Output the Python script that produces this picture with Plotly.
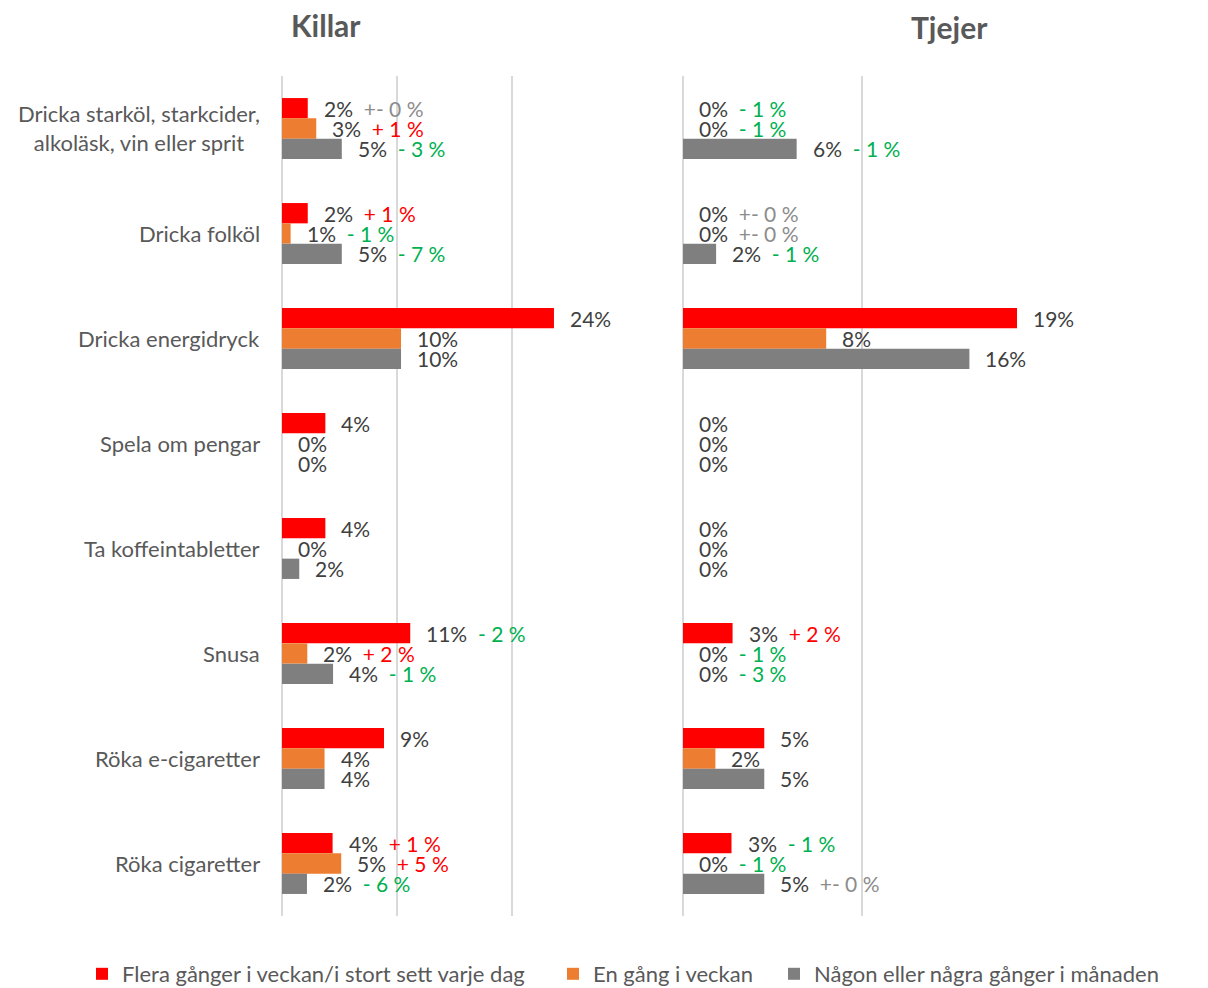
import plotly.graph_objects as go

# ---------------- data ----------------
categories = [
    "Dricka starköl, starkcider,<br>alkoläsk, vin eller sprit",
    "Dricka folköl",
    "Dricka energidryck",
    "Spela om pengar",
    "Ta koffeintabletter",
    "Snusa",
    "Röka e-cigaretter",
    "Röka cigaretter",
]
series_names = [
    "Flera gånger i veckan/i stort sett varje dag",
    "En gång i veckan",
    "Någon eller några gånger i månaden",
]
series_colors = ["#ff0000", "#ed7d31", "#7f7f7f"]

# Killar (percent)
killar_flera = [2.24, 2.24, 23.65, 3.77, 3.77, 11.15, 8.87, 4.4]
killar_en = [2.98, 0.75, 10.35, 0, 0, 2.2, 3.7, 5.15]
killar_nagon = [5.2, 5.2, 10.35, 0, 1.5, 4.44, 3.7, 2.17]

# Tjejer (percent)
tjejer_flera = [0, 0, 18.66, 0, 0, 2.77, 4.54, 2.71]
tjejer_en = [0, 0, 8.0, 0, 0, 0, 1.81, 0]
tjejer_nagon = [6.35, 1.85, 16.0, 0, 0, 0, 4.54, 4.54]

# change vs. previous survey (percentage points); None = not shown
killar_flera_chg = [0, 1, None, None, None, -2, None, 1]
killar_en_chg = [1, -1, None, None, None, 2, None, 5]
killar_nagon_chg = [-3, -7, None, None, None, -1, None, -6]
tjejer_flera_chg = [-1, 0, None, None, None, 2, None, -1]
tjejer_en_chg = [-1, 0, None, None, None, -1, None, -1]
tjejer_nagon_chg = [-1, -1, None, None, None, -3, None, 0]

panel_titles = ["Killar", "Tjejer"]

# ---------------- styling ----------------
FONT = "Lato, 'Open Sans', sans-serif"
TEXT_COL = "#404040"
AXIS_TEXT = "#595959"
GRID = "#d9d9d9"
CHG_POS = "#ff0000"
CHG_NEG = "#00b050"
CHG_ZERO = "#8c8c8c"
BARGAP = 0.42

W, H = 1208, 988


def px(xs):
    return xs / W


def py(ys):
    return 1 - ys / H


def chg_text(c):
    if c is None:
        return ""
    if c > 0:
        return f"<span style='color:{CHG_POS}'>+ {c} %</span>"
    if c < 0:
        return f"<span style='color:{CHG_NEG}'>- {abs(c)} %</span>"
    return f"<span style='color:{CHG_ZERO}'>+- 0 %</span>"


fig = go.Figure()

panels = [
    ("x", "y", [killar_flera, killar_en, killar_nagon],
     [killar_flera_chg, killar_en_chg, killar_nagon_chg], True),
    ("x2", "y2", [tjejer_flera, tjejer_en, tjejer_nagon],
     [tjejer_flera_chg, tjejer_en_chg, tjejer_nagon_chg], False),
]
legend_widths = [426, 176, None]

annotations = []
bw = (1 - BARGAP) / 3.0
for xa, ya, vals, chgs, show in panels:
    for k in range(3):
        kw = {}
        if show and legend_widths[k]:
            kw["legendwidth"] = legend_widths[k]
        fig.add_trace(go.Bar(
            x=vals[k], y=categories, orientation="h",
            name=series_names[k], marker=dict(color=series_colors[k], line=dict(width=0)),
            xaxis=xa, yaxis=ya, showlegend=show, legendgroup=series_names[k],
            hoverinfo="x+y", **kw,
        ))
        for i, v in enumerate(vals[k]):
            c = chgs[k][i]
            txt = f"{v:.0f}%"
            if c is not None:
                txt += "  " + chg_text(c)
            annotations.append(dict(
                x=v, y=i + (k - 1) * bw, xref=xa, yref=ya,
                text=txt, showarrow=False, xanchor="left", yanchor="middle",
                xshift=15, height=19, borderpad=0,
                font=dict(family=FONT, size=21, color=TEXT_COL),
            ))

# category labels (centered multi-line, right-aligned block next to the axis)
for cat in categories:
    annotations.append(dict(
        x=px(262), y=cat, xref="paper", yref="y", text=cat, showarrow=False,
        xanchor="right", yanchor="middle", align="center",
        font=dict(family=FONT, size=22, color=AXIS_TEXT),
    ))

# panel titles
annotations.append(dict(x=px(325.5), y=py(25), xref="paper", yref="paper",
                        text="<b>" + panel_titles[0] + "</b>", showarrow=False,
                        xanchor="center", yanchor="middle",
                        font=dict(family=FONT, size=30, color=AXIS_TEXT)))
annotations.append(dict(x=px(949), y=py(27), xref="paper", yref="paper",
                        text="<b>" + panel_titles[1] + "</b>", showarrow=False,
                        xanchor="center", yanchor="middle",
                        font=dict(family=FONT, size=30, color=AXIS_TEXT)))

ydom = [py(916), py(76)]
xcommon = dict(showgrid=True, gridcolor=GRID, gridwidth=2, dtick=10,
               showticklabels=False, zeroline=True, zerolinecolor=GRID,
               zerolinewidth=2, showline=False, ticks="", fixedrange=True)

fig.update_layout(
    width=W, height=H,
    margin=dict(l=0, r=0, t=0, b=0, autoexpand=False),
    paper_bgcolor="white", plot_bgcolor="white",
    barmode="group", bargap=BARGAP, bargroupgap=0,
    font=dict(family=FONT, size=22, color=AXIS_TEXT),
    xaxis=dict(domain=[px(282), px(627)], range=[0, 30], anchor="y", **xcommon),
    xaxis2=dict(domain=[px(683), px(1041)], range=[0, 20], anchor="y2", **xcommon),
    yaxis=dict(domain=ydom, anchor="x", type="category",
               categoryorder="array", categoryarray=categories,
               range=[len(categories) - 0.5, -0.5], showgrid=False,
               zeroline=False, showline=False, ticks="", showticklabels=False),
    yaxis2=dict(domain=ydom, anchor="x2", type="category", matches="y",
                categoryorder="array", categoryarray=categories,
                range=[len(categories) - 0.5, -0.5], showgrid=False,
                zeroline=False, showline=False, ticks="", showticklabels=False),
    legend=dict(orientation="h", x=px(82), xanchor="left",
                y=py(974), yanchor="middle",
                font=dict(family=FONT, size=22, color=AXIS_TEXT),
                itemclick=False, itemdoubleclick=False),
    annotations=annotations,
)

fig.write_html("out.html",
               config={"displayModeBar": False},
               post_script="document.body.style.margin='0px';"
                           "document.body.style.overflow='hidden';")
